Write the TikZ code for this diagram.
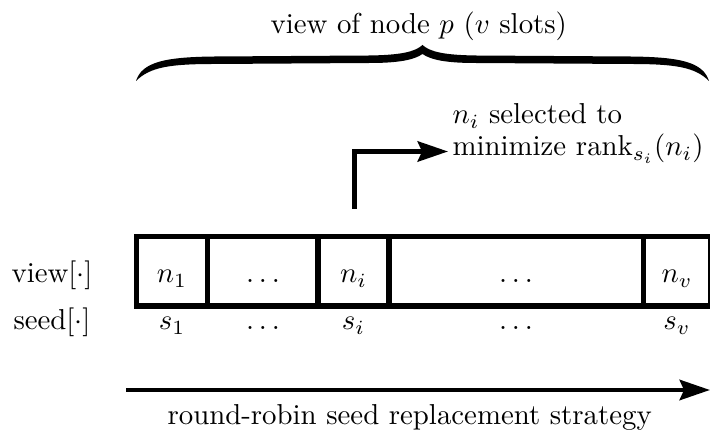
\documentclass[tikz,border=0pt]{standalone}
\usetikzlibrary{arrows.meta}
\begin{document}
\begin{tikzpicture}[x=0.347pt,y=-0.347pt,
  lbl/.style={anchor=base, inner sep=0pt},
  boxline/.style={line width=1.75pt},
  arr/.style={line width=1.65pt, -{Stealth[length=10.5pt,width=7pt,inset=1.5pt]}},
]
\useasboundingbox (0,0) rectangle (710,437);
% title and brace
\node[lbl, anchor=base west] (title) at (270,34) {view of node $p$ ($v$ slots)};
\fill (422.5,45) .. controls (415,52) and (400,55) .. (370,55.5) -- (215,56.5)
  .. controls (165,57) and (142,62) .. (136,81)
  .. controls (150,67) and (170,64) .. (215,64) -- (370,63)
  .. controls (398,63) and (414,60) .. (422.5,54)
  .. controls (431,60) and (447,63) .. (475,63) -- (630,64)
  .. controls (675,64) and (695,67) .. (709,81)
  .. controls (703,62) and (680,57) .. (630,56.5) -- (475,55.5)
  .. controls (445,55) and (430,52) .. (422.5,45) -- cycle;
% cells
\coordinate (bl) at (136.5,306);
\coordinate (tr) at (711,236.5);
\draw[boxline] (bl) rectangle (tr);
\foreach \x in {207.5,318,389,643.5}{
  \draw[boxline] (\x,236.5) -- (\x,306);
}
% labels
\node[lbl] (viewlbl) at (52,283) {view$[\cdot]$};
\node[lbl] (seedlbl) at (52,330) {seed$[\cdot]$};
\node[lbl] (n1) at (172,283) {$n_1$};
\node[lbl] (d1) at (263,283) {$\ldots$};
\node[lbl] (ni) at (353.5,283) {$n_i$};
\node[lbl] (d2) at (516,283) {$\ldots$};
\node[lbl] (nv) at (677,283) {$n_v$};
\node[lbl] (s1) at (172,330) {$s_1$};
\node[lbl] (e1) at (263,330) {$\ldots$};
\node[lbl] (si) at (353.5,330) {$s_i$};
\node[lbl] (e2) at (516,330) {$\ldots$};
\node[lbl] (sv) at (677,330) {$s_v$};
% selection arrow
\coordinate (up) at (354.5,209);
\coordinate (tip) at (448,151.5);
\draw[arr] (up) |- (tip);
\node[lbl, anchor=base west] (sel1) at (452,124) {$n_i$ selected to};
\node[lbl, anchor=base west] (sel2) at (452,156) {minimize $\mathrm{rank}_{s_i}(n_i)$};
% round robin arrow
\coordinate (rrs) at (126,390);
\coordinate (rre) at (710,390);
\draw[arr] (rrs) -- (rre);
\node[lbl, anchor=base west] (rr) at (167,425) {round-robin seed replacement strategy};
\end{tikzpicture}
\end{document}
